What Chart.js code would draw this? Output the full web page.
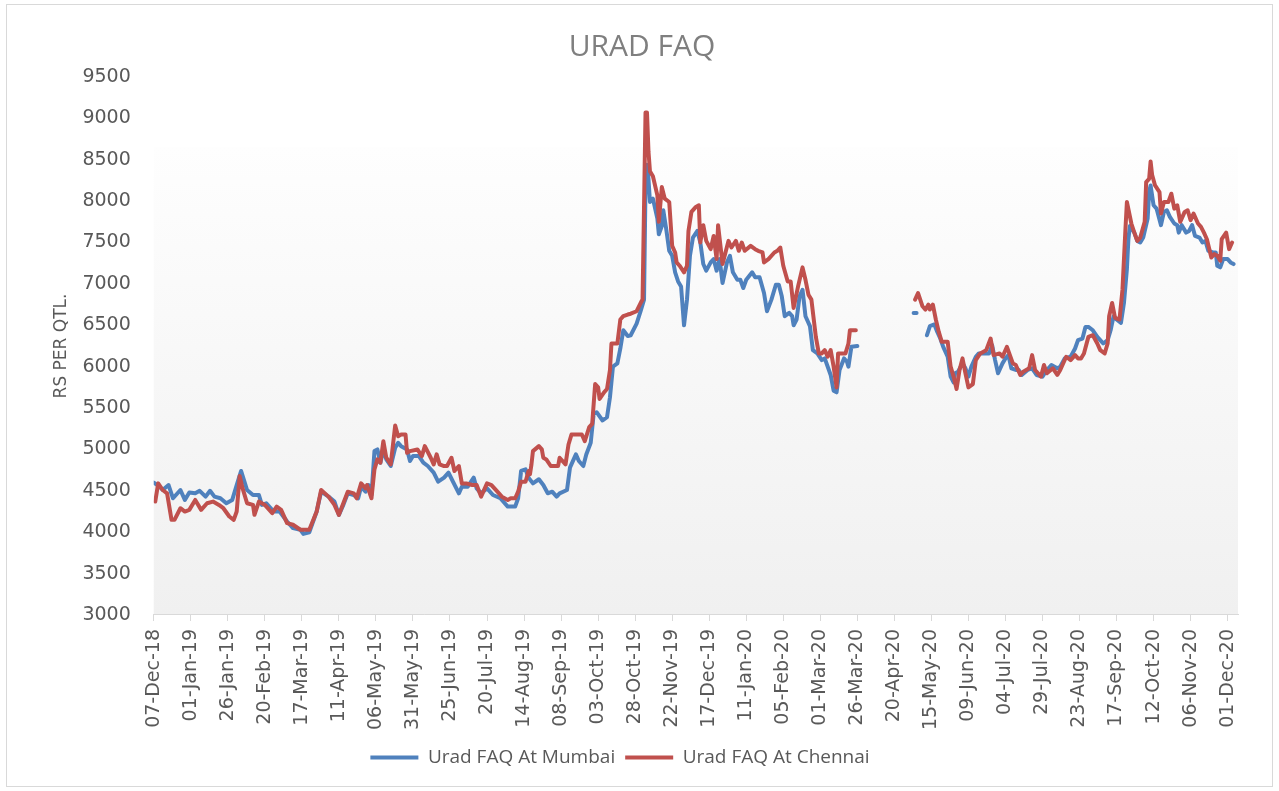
<!DOCTYPE html>
<html>
<head>
<meta charset="utf-8">
<script src="https://cdn.jsdelivr.net/npm/chart.js@4.4.1/dist/chart.umd.min.js"></script>
<style>
  html, body { margin: 0; padding: 0; background: #ffffff; }
  #wrap { width: 1279px; height: 791px; position: relative; }
</style>
</head>
<body>
<div id="wrap"><canvas id="c" width="1279" height="791"></canvas></div>
<script>
// Day offsets from 07-Dec-18 and prices (Rs per quintal); null = no data (gap)
const mumbaiDays = [0,4,6,10,13,18,21,24,28,31,35,38,41,45,49,53,56,59,63,67,71,73,76,81,85,90,94,99,101,105,110,113,118,122,125,128,131,135,138,140,143,145,147,149,151,153,155,157,160,163,165,167,171,173,175,179,182,185,189,192,196,199,202,206,208,212,216,218,221,225,229,234,239,242,244,246,248,251,253,256,260,263,266,269,272,274,279,281,285,287,290,292,295,297,299,303,306,308,310,313,315,317,320,322,326,329,331,332,333,334,335,337,340,341,343,344,346,348,350,352,354,356,358,360,362,364,367,369,371,373,376,378,380,382,384,387,389,391,394,396,398,400,404,406,409,412,414,417,420,422,424,426,429,431,432,434,436,438,440,443,445,448,451,453,457,459,461,463,466,468,469,471,475,490,513,515,518,522,524,527,529,531,533,536,538,540,541,543,546,548,550,552,555,557,560,564,566,568,570,573,575,577,579,582,584,586,590,593,596,600,603,606,610,612,615,619,622,624,627,629,631,634,637,639,641,644,646,648,650,653,655,657,658,659,662,664,666,668,671,672,673,675,677,680,682,684,686,689,691,692,694,697,699,701,703,706,708,710,712,715,717,718,720,722,725,727,729];
const mumbaiValues = [4600,4550,4510,4570,4410,4510,4390,4480,4470,4500,4430,4500,4430,4410,4350,4390,4570,4740,4510,4450,4450,4330,4350,4250,4250,4130,4050,4030,3980,4000,4250,4490,4430,4370,4210,4330,4470,4450,4410,4550,4490,4570,4450,4980,5000,4840,5000,4880,4800,5020,5080,5040,5000,4860,4920,4920,4840,4800,4720,4610,4660,4720,4610,4470,4550,4550,4660,4530,4470,4530,4450,4410,4310,4310,4310,4410,4740,4760,4660,4590,4640,4570,4470,4490,4430,4470,4510,4780,4940,4860,4800,4940,5080,5430,5450,5350,5390,5630,6000,6040,6220,6440,6370,6380,6520,6690,6810,8190,8440,8270,7990,8030,7790,7600,7700,7890,7660,7400,7340,7140,7030,6970,6500,6810,7340,7560,7640,7500,7240,7160,7260,7300,7160,7300,7010,7260,7340,7140,7050,7050,6950,7050,7140,7080,7080,6890,6670,6810,6990,6990,6850,6610,6650,6610,6500,6570,6850,6930,6610,6490,6200,6160,6080,6100,5900,5710,5690,5960,6100,6060,6000,6240,6250,null,6650,6650,null,6380,6490,6510,6420,6340,6240,6120,5880,5810,5920,5940,6040,5980,5880,6000,6120,6160,6160,6160,6260,6080,5920,6040,6100,6140,5980,5960,5960,5900,5960,5980,5900,5880,5960,6020,5980,6000,6100,6120,6220,6320,6340,6480,6480,6440,6360,6320,6280,6320,6440,6610,6570,6530,6770,7180,7540,7700,7620,7520,7500,7560,7790,8110,8190,7950,7910,7710,7870,7890,7810,7730,7710,7620,7710,7620,7640,7710,7580,7560,7500,7520,7400,7380,7380,7220,7200,7300,7300,7260,7240];

const chennaiDays = [1,3,6,9,12,14,18,21,24,28,32,36,40,44,47,51,54,56,58,60,63,67,68,71,75,80,83,86,90,94,99,105,110,113,118,122,125,128,131,135,137,140,143,144,147,149,151,153,155,157,160,163,165,167,170,171,173,178,181,183,187,189,191,193,196,198,201,203,206,208,211,215,218,221,225,228,232,235,239,241,244,246,248,251,253,254,255,256,260,262,263,265,268,273,274,278,280,282,289,291,294,296,298,300,301,304,306,308,309,313,315,317,320,322,326,329,330,332,333,334,335,337,340,341,343,345,348,350,352,353,355,358,360,361,363,366,368,369,371,373,376,378,380,381,384,386,388,390,393,395,397,399,403,406,408,411,412,415,419,421,423,425,428,430,432,435,438,440,442,444,447,449,451,453,455,457,459,461,462,465,467,469,470,474,490,514,516,519,521,523,524,526,528,530,532,536,538,540,542,544,546,548,550,553,555,558,562,565,567,571,573,576,580,582,585,587,591,593,595,599,601,603,607,610,612,616,619,622,624,626,628,631,634,637,639,642,644,645,647,649,652,654,656,657,660,662,664,666,669,670,672,673,674,676,679,680,682,685,687,689,691,693,696,698,700,702,705,707,709,711,714,716,718,720,721,724,726,728];
const chennaiValues = [4370,4590,4510,4470,4150,4150,4290,4250,4270,4390,4270,4350,4370,4330,4290,4190,4150,4250,4680,4530,4350,4330,4210,4370,4330,4230,4310,4270,4110,4090,4030,4030,4250,4510,4430,4330,4210,4350,4490,4470,4410,4590,4530,4570,4410,4760,4880,4840,5100,4900,4820,5290,5160,5180,5180,4960,4980,5000,4920,5040,4900,4820,4940,4820,4800,4800,4900,4740,4800,4590,4590,4570,4570,4430,4590,4570,4490,4430,4390,4410,4410,4490,4610,4610,4740,4700,4820,4980,5040,5000,4900,4880,4800,4800,4900,4820,5060,5180,5180,5100,5270,5310,5790,5750,5610,5690,5730,5960,6280,6280,6570,6610,6630,6640,6670,6780,6810,9070,9070,8600,8360,8300,8070,7750,8170,8030,7990,7460,7380,7260,7220,7140,7220,7640,7870,7930,7950,7500,7710,7520,7420,7580,7300,7710,7240,7380,7520,7440,7520,7400,7500,7400,7460,7420,7400,7380,7260,7300,7380,7400,7440,7220,7030,7030,6710,6970,7200,7050,6870,6810,6360,6160,6160,6200,6120,6200,6000,5750,6160,6160,6160,6280,6440,6440,null,6810,6890,6730,6690,6750,6690,6750,6570,6420,6300,6300,6000,5880,5730,5960,6100,5920,5750,5790,6080,6160,6200,6340,6140,6160,6120,6240,6040,6020,5900,5940,5980,6140,5960,5880,6020,5920,5980,5900,5960,6120,6080,6140,6100,6100,6160,6360,6380,6280,6200,6160,6280,6610,6770,6590,6570,6930,7660,7990,7730,7620,7520,7560,7750,8230,8270,8480,8320,8190,8110,7850,7990,7990,8090,7910,7950,7750,7870,7890,7770,7850,7730,7690,7620,7540,7320,7360,7340,7280,7540,7620,7420,7500];

// X-axis tick labels, one every 25 days starting 07-Dec-18
const tickLabels = ['07-Dec-18','01-Jan-19','26-Jan-19','20-Feb-19','17-Mar-19','11-Apr-19','06-May-19','31-May-19','25-Jun-19','20-Jul-19','14-Aug-19','08-Sep-19','03-Oct-19','28-Oct-19','22-Nov-19','17-Dec-19','11-Jan-20','05-Feb-20','01-Mar-20','26-Mar-20','20-Apr-20','15-May-20','09-Jun-20','04-Jul-20','29-Jul-20','23-Aug-20','17-Sep-20','12-Oct-20','06-Nov-20','01-Dec-20'];
const seriesNames = ['Urad FAQ At Mumbai', 'Urad FAQ At Chennai'];
const seriesColors = ['#4f81bd', '#c0504d'];
const chartTitle = 'URAD FAQ';
const yTitle = 'RS PER QTL.';
const tickStep = 25;
const lastDay = 732;

function toPoints(days, vals) { return days.map((d, i) => ({ x: d, y: vals[i] })); }

const frame = {
  id: 'frame',
  afterLayout(chart) {
    // nudge legend left to match the original placement
    if (chart.legend) { chart.legend.left -= 22; chart.legend.right -= 22; }
  },
  beforeDraw(chart) {
    const ctx = chart.ctx, a = chart.chartArea;
    ctx.save();
    ctx.fillStyle = '#ffffff';
    ctx.fillRect(0, 0, chart.width, chart.height);
    ctx.strokeStyle = '#d9d9d9';
    ctx.lineWidth = 1;
    ctx.strokeRect(6.5, 4.5, chart.width - 13, chart.height - 9);
    const top = a.top + 70;
    const g = ctx.createLinearGradient(0, top, 0, a.bottom);
    g.addColorStop(0, '#fefefe');
    g.addColorStop(1, '#f0f0f0');
    ctx.fillStyle = g;
    ctx.fillRect(a.left, top, a.right - a.left, a.bottom - top);
    ctx.restore();
  }
};

function ds(i, days, vals, order) {
  return {
    label: seriesNames[i], data: toPoints(days, vals), order: order,
    borderColor: seriesColors[i], backgroundColor: seriesColors[i],
    pointBorderColor: seriesColors[i], pointBackgroundColor: seriesColors[i], pointBorderWidth: 4
  };
}

new Chart(document.getElementById('c'), {
  type: 'line',
  data: {
    datasets: [
      ds(0, mumbaiDays, mumbaiValues, 1),
      ds(1, chennaiDays, chennaiValues, 0)
    ]
  },
  options: {
    responsive: false,
    animation: false,
    spanGaps: false,
    layout: { padding: { top: 10, left: 46, right: 41, bottom: 14 } },
    elements: {
      point: { radius: 0, hoverRadius: 0 },
      line: { borderWidth: 4, tension: 0, borderJoinStyle: 'round', borderCapStyle: 'round', fill: false }
    },
    plugins: {
      tooltip: { enabled: false },
      title: {
        display: true, text: chartTitle, color: '#7f7f7f',
        font: { family: "'Open Sans'", size: 30, weight: 'normal' },
        padding: { top: 19, bottom: 12 }
      },
      legend: {
        position: 'bottom',
        labels: {
          usePointStyle: true, pointStyle: 'line', pointStyleWidth: 48,
          color: '#595959', font: { family: "'Open Sans'", size: 19 }, padding: 10,
          sort: (a, b) => a.datasetIndex - b.datasetIndex
        }
      }
    },
    scales: {
      x: {
        type: 'linear', min: 0, max: lastDay,
        afterBuildTicks: (axis) => { axis.ticks = tickLabels.map((_, i) => ({ value: i * tickStep })); },
        ticks: {
          autoSkip: false, maxRotation: 90, minRotation: 90, padding: 8,
          color: '#595959', font: { family: "'DejaVu Sans'", size: 19 },
          callback: (v) => tickLabels[Math.round(v / tickStep)]
        },
        grid: { drawOnChartArea: false, drawTicks: true, tickLength: 6, color: '#d9d9d9' },
        border: { display: true, color: '#d9d9d9', width: 1 }
      },
      y: {
        min: 3000, max: 9500,
        ticks: { stepSize: 500, padding: 23, color: '#595959', font: { family: "'DejaVu Sans'", size: 19 }, callback: (v) => String(v) },
        grid: { display: false, drawTicks: false },
        border: { display: false },
        title: { display: true, text: yTitle, color: '#595959', font: { family: "'DejaVu Sans'", size: 17 }, padding: { top: 5, bottom: -12 } }
      }
    }
  },
  plugins: [frame]
});
</script>
</body>
</html>
